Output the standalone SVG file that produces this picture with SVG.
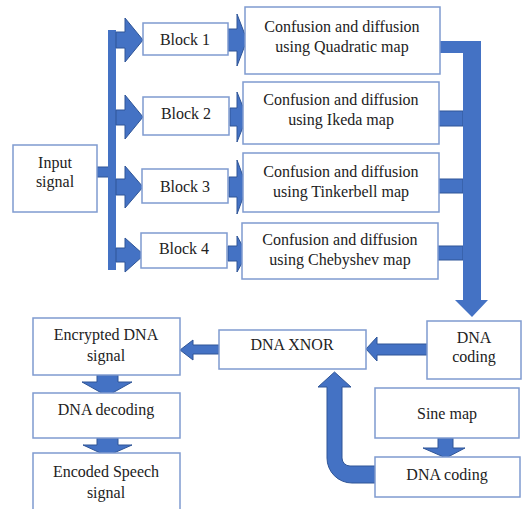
<svg xmlns="http://www.w3.org/2000/svg" width="523" height="509" viewBox="0 0 523 509" font-family="Liberation Serif, Times New Roman, DejaVu Serif, serif">
<style>
.box{fill:#fff;stroke:#7f9bd0;stroke-width:1.5}
.t{font-size:16px;fill:#222;text-anchor:middle}
.ar{fill:#4472c4;stroke:#2f5597;stroke-width:1}
.bar{fill:#4472c4;stroke:none}
</style>
<rect width="523" height="509" fill="#fff"/>
<g id="connectors">
  <rect class="ar" x="97" y="167" width="12" height="10"/>
  <rect class="bar" x="108" y="30" width="8" height="240"/>
  <polygon class="ar" points="116,32 125,32 125,18 143,40 125,62 125,48 116,48"/>
  <polygon class="ar" points="116,110 125,110 125,95 143,117 125,139 125,125 116,125"/>
  <polygon class="ar" points="116,179 125,179 125,166 143,187 125,208 125,195 116,195"/>
  <polygon class="ar" points="116,248 125,248 125,238 144,255 125,272 125,262 116,262"/>
  <polygon class="ar" points="228,29 237,29 237,14 247,40 237,66 237,51 228,51"/>
  <polygon class="ar" points="230,108 237,108 237,92 247,117 237,142 237,126 230,126"/>
  <polygon class="ar" points="229,177 237,177 237,160 247,187 237,214 237,197 229,197"/>
  <polygon class="ar" points="228,246 237,246 237,236 247,254 237,272 237,261 228,261"/>
  <rect class="bar" x="438" y="41" width="26" height="12"/>
  <rect class="ar" x="437" y="111" width="26" height="15"/>
  <rect class="ar" x="437" y="179" width="26" height="14"/>
  <rect class="ar" x="437" y="246" width="26" height="14"/>
  <polygon class="bar" points="463,41 481,41 481,300 488,300 472,317 455,300 463,300"/>
  <polygon class="ar" points="427,344 377,344 377,337 366,349 377,361 377,355 427,355"/>
  <polygon class="ar" points="219,345 193,345 193,340 180,350 193,360 193,354 219,354"/>
  <polygon class="ar" points="97,375 118,375 118,382 132,382 107,396 82,382 97,382"/>
  <polygon class="ar" points="97,438 118,438 118,445 132,445 107,456 83,445 97,445"/>
  <polygon class="ar" points="438,438 453,438 453,448 465,448 446,458 423,448 438,448"/>
  <path class="ar" d="M375,466 L350,466 A8,8 0 0 1 342,458 L342,387 L351,387 L334.5,372 L318,387 L327,387 L327,458 A25,25 0 0 0 352,483 L375,483 Z"/>
</g>
<g id="input"><rect class="box" x="13" y="145" width="84" height="67"/><text class="t" x="55" y="168">Input</text><text class="t" x="55" y="187">signal</text></g>
<g id="block1"><rect class="box" x="143" y="23" width="85" height="32"/><text class="t" x="185" y="45">Block 1</text></g>
<g id="block2"><rect class="box" x="143" y="97" width="86" height="38"/><text class="t" x="186" y="119">Block 2</text></g>
<g id="block3"><rect class="box" x="142" y="169" width="86" height="34"/><text class="t" x="185" y="192">Block 3</text></g>
<g id="block4"><rect class="box" x="141" y="233" width="86" height="35"/><text class="t" x="184" y="254">Block 4</text></g>
<g id="cd1"><rect class="box" x="245" y="7" width="195" height="67"/><text class="t" x="342" y="32">Confusion and diffusion</text><text class="t" x="342" y="52">using Quadratic map</text></g>
<g id="cd2"><rect class="box" x="243" y="82" width="196" height="62"/><text class="t" x="341" y="105">Confusion and diffusion</text><text class="t" x="341" y="125">using Ikeda map</text></g>
<g id="cd3"><rect class="box" x="243" y="153" width="196" height="59"/><text class="t" x="341" y="177">Confusion and diffusion</text><text class="t" x="341" y="197">using Tinkerbell map</text></g>
<g id="cd4"><rect class="box" x="242" y="223" width="196" height="56"/><text class="t" x="340" y="245">Confusion and diffusion</text><text class="t" x="340" y="265">using Chebyshev map</text></g>
<g id="dnacoding1"><rect class="box" x="427" y="321" width="94" height="58"/><text class="t" x="474" y="343">DNA</text><text class="t" x="474" y="362">coding</text></g>
<g id="xnor"><rect class="box" x="219" y="330" width="147" height="39"/><text class="t" x="292" y="350">DNA XNOR</text></g>
<g id="encrypted"><rect class="box" x="33" y="318" width="147" height="57"/><text class="t" x="106" y="340">Encrypted DNA</text><text class="t" x="106" y="361">signal</text></g>
<g id="decoding"><rect class="box" x="33" y="393" width="147" height="45"/><text class="t" x="106" y="415">DNA decoding</text></g>
<g id="encoded"><rect class="box" x="33" y="453" width="147" height="60"/><text class="t" x="106" y="477">Encoded Speech</text><text class="t" x="106" y="498">signal</text></g>
<g id="sine"><rect class="box" x="375" y="388" width="144" height="50"/><text class="t" x="447" y="419">Sine map</text></g>
<g id="dnacoding2"><rect class="box" x="375" y="457" width="145" height="40"/><text class="t" x="447" y="480">DNA coding</text></g>
</svg>
